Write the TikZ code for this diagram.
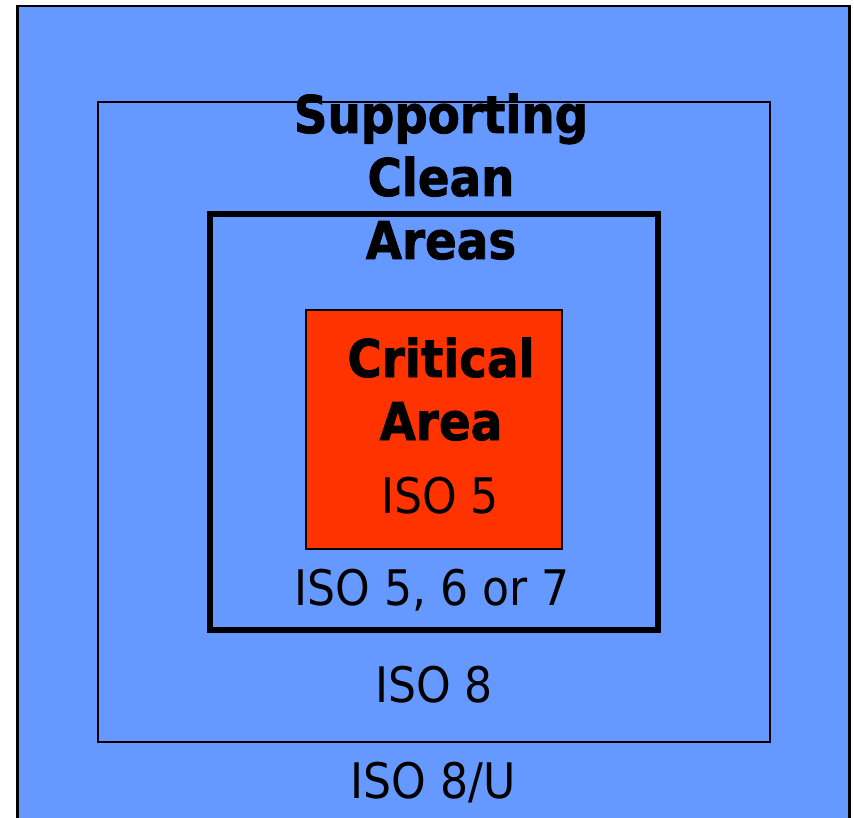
\documentclass[tikz,border=0pt]{standalone}
\usepackage{fontspec}
\setmainfont{DejaVu Sans Condensed}[BoldFeatures={FakeBold=1.5}]
\definecolor{zoneblue}{HTML}{6699FF}
\definecolor{zonered}{HTML}{FF3300}
\begin{document}
\begin{tikzpicture}[x=1pt,y=-1pt,
  zone/.style={draw=black, fill=zoneblue, inner sep=0pt, outer sep=0pt},
  title/.style={font=\fontsize{52}{63}\selectfont\bfseries, anchor=base, inner sep=0pt},
  label/.style={font=\fontsize{49}{60}\selectfont, anchor=base, inner sep=0pt}]
\useasboundingbox (0,0) rectangle (854,818);
\clip (0,0) rectangle (854,818);
% outer area
\node[zone, line width=2.7pt, minimum width=831.8pt, minimum height=840pt] (outer) at (433.6,426) {};
% supporting area
\node[zone, line width=1.5pt, minimum width=672pt, minimum height=640pt] (support) at (434.2,422) {};
% clean area
\node[zone, line width=6pt, minimum width=448pt, minimum height=416pt] (clean) at (434,422) {};
% critical area
\node[draw=black, fill=zonered, line width=2pt, inner sep=0pt, minimum width=256.5pt, minimum height=239pt] (critical) at (434.2,429.6) {};
% texts
\node[title] (t1) at (441,133) {Supporting};
\node[title] (t2) at (441,196) {Clean};
\node[title] (t3) at (441,259) {Areas};
\node[title] (c1) at (441,377) {Critical};
\node[title] (c2) at (441,440) {Area};
\node[label] (i5) at (440,513) {ISO 5};
\node[label] (i567) at (432,605) {ISO 5, 6 or 7};
\node[label] (i8) at (434,702) {ISO 8};
\node[label] (i8u) at (433,798) {ISO 8/U};
\end{tikzpicture}
\end{document}
